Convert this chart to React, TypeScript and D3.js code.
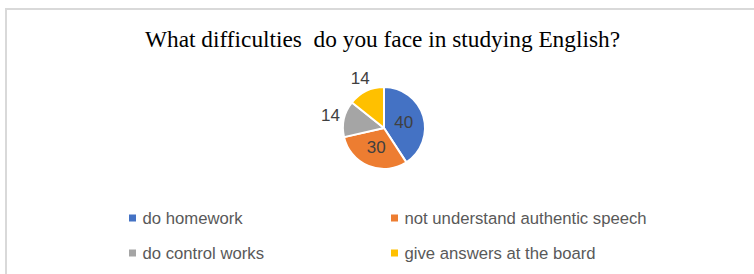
// Pie chart: "What difficulties do you face in studying English?"
// D3 owns the <svg> through a ref, same pattern as our other charts.

import * as d3 from "d3";
import React, { useEffect, useRef } from "react";

// ── Data ──────────────────────────────────────────────────────────────────────
const categories = [
  "do homework",
  "not understand authentic speech",
  "do control works",
  "give answers at the board",
];
const values = [40, 30, 14, 14];
const colors = ["#4472C4", "#ED7D31", "#A5A5A5", "#FFC000"];
const title = "What difficulties  do you face in studying English?";

const WIDTH = 754;
const HEIGHT = 274;

export default function App() {
  const svgRef = useRef<SVGSVGElement>(null);

  useEffect(() => {
    const svg = d3.select(svgRef.current);
    svg.selectAll("*").remove();

    // chart frame (only top + left edges are visible in the crop)
    svg
      .append("rect")
      .attr("x", 6)
      .attr("y", 9)
      .attr("width", WIDTH + 40)
      .attr("height", HEIGHT + 40)
      .attr("fill", "#ffffff")
      .attr("stroke", "#d9d9d9")
      .attr("stroke-width", 2);

    // title
    svg
      .append("text")
      .attr("x", 382.5)
      .attr("y", 46.5)
      .attr("text-anchor", "middle")
      .attr("font-family", "'Liberation Serif', 'Times New Roman', serif")
      .attr("font-size", "23.5px")
      .attr("textLength", 475)
      .attr("lengthAdjust", "spacingAndGlyphs")
      .attr("fill", "#000000")
      .style("white-space", "pre")
      .text(title);

    // ── Pie ─────────────────────────────────────────────────────────────────
    const cx = 384;
    const cy = 128;
    const r = 41;

    const pie = d3
      .pie<number>()
      .sort(null)
      .value((d) => d);
    const arcs = pie(values);

    const arc = d3.arc<d3.PieArcDatum<number>>().innerRadius(0).outerRadius(r);
    const innerLabel = d3
      .arc<d3.PieArcDatum<number>>()
      .innerRadius(r * 0.5)
      .outerRadius(r * 0.5);
    const outerLabel = d3
      .arc<d3.PieArcDatum<number>>()
      .innerRadius(55)
      .outerRadius(55);

    const g = svg.append("g").attr("transform", `translate(${cx},${cy})`);

    g.selectAll("path")
      .data(arcs)
      .join("path")
      .attr("d", arc)
      .attr("fill", (_, i) => colors[i])
      .attr("stroke", "#ffffff")
      .attr("stroke-width", 2)
      .attr("stroke-linejoin", "round");

    // data labels: big slices inside, small ones outside (Excel "best fit")
    g.selectAll("text.label")
      .data(arcs)
      .join("text")
      .attr("class", "label")
      .attr("transform", (d) => {
        const big = d.endAngle - d.startAngle > Math.PI / 3;
        const [x, y] = (big ? innerLabel : outerLabel).centroid(d);
        return `translate(${x},${y})`;
      })
      .attr("text-anchor", "middle")
      .attr("dominant-baseline", "central")
      .attr("font-family", "'Liberation Sans', Arial, sans-serif")
      .attr("font-size", "17px")
      .attr("fill", "#404040")
      .text((d) => String(d.data));

    // ── Legend (2 x 2) ──────────────────────────────────────────────────────
    const colX = d3.scaleOrdinal<number, number>().domain([0, 1]).range([129, 391]);
    const rowY = d3.scaleOrdinal<number, number>().domain([0, 1]).range([218, 253]);

    const legend = svg
      .selectAll("g.legend")
      .data(categories)
      .join("g")
      .attr("class", "legend")
      .attr("transform", (_, i) => `translate(${colX(i % 2)},${rowY(Math.floor(i / 2))})`);

    legend
      .append("rect")
      .attr("x", 0)
      .attr("y", -3.5)
      .attr("width", 7)
      .attr("height", 7)
      .attr("fill", (_, i) => colors[i]);

    legend
      .append("text")
      .attr("x", 13.5)
      .attr("y", 0)
      .attr("dominant-baseline", "central")
      .attr("font-family", "'Liberation Sans', Arial, sans-serif")
      .attr("font-size", "16.7px")
      .attr("fill", "#595959")
      .text((d) => d);
  }, []);

  return (
    <svg
      ref={svgRef}
      width={WIDTH}
      height={HEIGHT}
      viewBox={`0 0 ${WIDTH} ${HEIGHT}`}
      style={{ position: "fixed", left: 0, top: 0, background: "#ffffff" }}
    />
  );
}
